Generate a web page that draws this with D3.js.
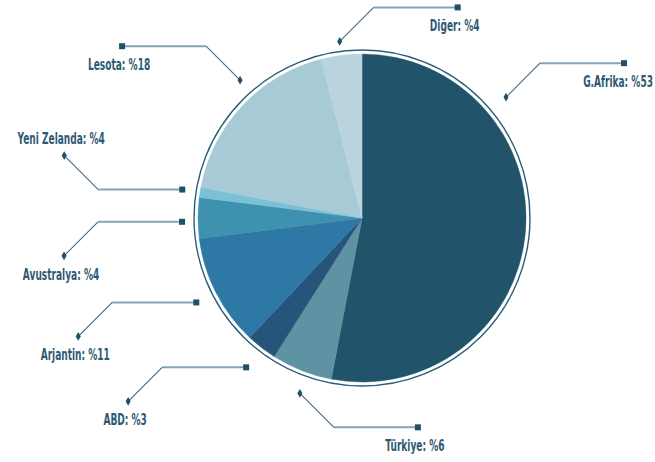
<!DOCTYPE html>
<html>
<head>
<meta charset="utf-8">
<script src="https://cdn.jsdelivr.net/npm/d3@7"></script>
<style>
  body { margin: 0; background: #fff; }
  text { font-family: "DejaVu Sans Condensed", "DejaVu Sans", sans-serif; }
</style>
</head>
<body>
<div id="chart"></div>
<script>
// data
var countries = ["G.Afrika", "Türkiye", "ABD", "Arjantin", "Avustralya", "Yeni Zelanda", "Lesota", "Diğer"];
var shares    = [53, 6, 3, 11, 4, 1, 18, 4];          // slice sizes as drawn
var labelPct  = [53, 6, 3, 11, 4, 4, 18, 4];          // numbers printed in labels
var colors    = ["#21546b", "#5e93a3", "#26547a", "#2e78a5", "#3f91b0", "#7bc0d4", "#a6cbd6", "#bad4df"];

var width = 655, height = 462;
var cx = 362, cy = 218, radius = 164;

var svg = d3.select("#chart").append("svg")
  .attr("width", width)
  .attr("height", height);

var data = countries.map(function(c, i){
  return {name: c, value: shares[i], pct: labelPct[i], color: colors[i]};
});

var pie = d3.pie().sort(null).value(function(d){ return d.value; });
var arc = d3.arc().innerRadius(0).outerRadius(radius);
var arcs = pie(data);

var g = svg.append("g").attr("transform", "translate(" + cx + "," + cy + ")");

// outer ring
g.append("circle")
  .attr("r", radius + 4)
  .attr("fill", "none")
  .attr("stroke", "#2a5f78")
  .attr("stroke-width", 1.4);

g.selectAll(".slice")
  .data(arcs)
  .enter().append("path")
  .attr("class", "slice")
  .attr("d", arc)
  .attr("fill", function(d){ return d.data.color; })
  .attr("stroke", function(d){ return d.data.color; })
  .attr("stroke-width", 0.5);

// leader lines: anchor near the pie, direction (sx, sy), which segment comes first
// a few anchors are nudged off the slice middle like in the original
var leader = {
  "G.Afrika":     {angle: 50, r: 188, sx: 1,  sy: -1, first: "diag"},
  "Türkiye":      {angle: 199.5, r: 186, sx: 1,  sy: 1,  first: "diag"},
  "ABD":          {r: 189, sx: -1, sy: 1,  first: "horiz"},
  "Arjantin":     {r: 186, sx: -1, sy: 1,  first: "horiz"},
  "Avustralya":   {angle: 268.8, r: 180, sx: -1, sy: 1,  first: "horiz"},
  "Yeni Zelanda": {r: 182, sx: -1, sy: -1, first: "horiz"},
  "Lesota":       {angle: 318.5, r: 184, sx: -1, sy: -1, first: "diag"},
  "Diğer":        {r: 178, sx: 1,  sy: -1, first: "diag"}
};
var H = 84, D = 34;

var lg = svg.append("g");

arcs.forEach(function(a){
  var cfg = leader[a.data.name];
  var ang = cfg.angle != null ? cfg.angle * Math.PI / 180 : (a.startAngle + a.endAngle) / 2;
  var x0 = cx + Math.sin(ang) * cfg.r,
      y0 = cy - Math.cos(ang) * cfg.r;
  var sx = cfg.sx, sy = cfg.sy;

  var pts, diagSeg, horizSeg;
  if (cfg.first === "diag") {
    var x1 = x0 + sx * D, y1 = y0 + sy * D;
    pts = [[x0, y0], [x1, y1], [x1 + sx * H, y1]];
    diagSeg = [pts[0], pts[1]]; horizSeg = [pts[1], pts[2]];
  } else {
    var x1b = x0 + sx * H;
    pts = [[x0, y0], [x1b, y0], [x1b + sx * D, y0 + sy * D]];
    horizSeg = [pts[0], pts[1]]; diagSeg = [pts[1], pts[2]];
  }

  lg.append("line")
    .attr("x1", horizSeg[0][0]).attr("y1", horizSeg[0][1])
    .attr("x2", horizSeg[1][0]).attr("y2", horizSeg[1][1])
    .attr("stroke", "#86a3b2").attr("stroke-width", 2);
  lg.append("line")
    .attr("x1", diagSeg[0][0]).attr("y1", diagSeg[0][1])
    .attr("x2", diagSeg[1][0]).attr("y2", diagSeg[1][1])
    .attr("stroke", "#3d6b82").attr("stroke-width", 1.1);

  // square at horizontal end, diamond at diagonal end
  var sq = cfg.first === "horiz" ? pts[0] : pts[2];
  var dm = cfg.first === "diag" ? pts[0] : pts[2];
  lg.append("rect")
    .attr("x", sq[0] - 3).attr("y", sq[1] - 3)
    .attr("width", 6).attr("height", 6)
    .attr("fill", "#1f5068");
  lg.append("path")
    .attr("d", d3.symbol().type(d3.symbolDiamond).size(22)())
    .attr("transform", "translate(" + dm[0] + "," + dm[1] + ")")
    .attr("fill", "#1f5068");

  var far = pts[2];
  var up = (cfg.first === "horiz" && sy < 0);
  var sc = 0.67;
  var t = lg.append("text")
    .attr("x", 0)
    .attr("y", up ? far[1] - 12 : far[1] + 24)
    .attr("text-anchor", "middle")
    .attr("font-size", 15)
    .attr("font-weight", "bold")
    .attr("fill", "#2d5a72")
    .text(a.data.name + ": %" + a.data.pct);
  // keep the label inside the picture
  var half = t.node().getBBox().width * sc / 2;
  var tx = Math.min(far[0] - 3, width - 2 - half);
  t.attr("transform", "translate(" + tx + ",0) scale(" + sc + ",1)");
});
</script>
</body>
</html>
